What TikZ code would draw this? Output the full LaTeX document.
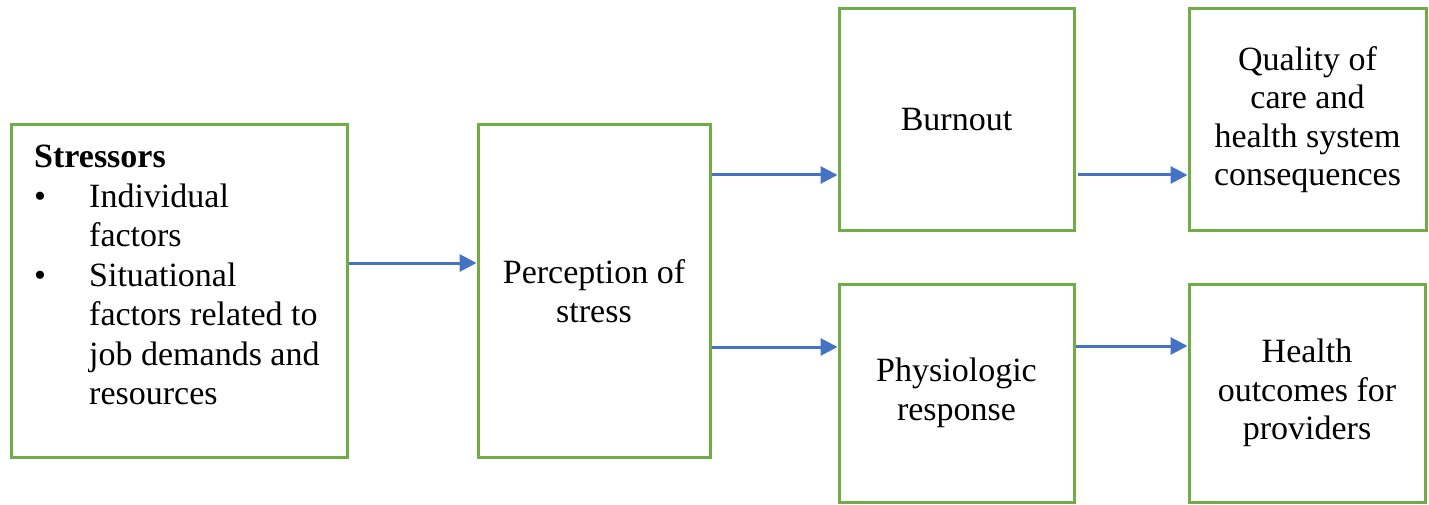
\documentclass[tikz,border=0pt]{standalone}
\usepackage{fontspec}
\setmainfont{Liberation Serif}
\usetikzlibrary{arrows.meta}
\definecolor{boxgreen}{HTML}{70AD47}
\definecolor{arrblue}{HTML}{4472C4}
\begin{document}
\begin{tikzpicture}[x=1pt,y=-1pt,
  box/.style={draw=boxgreen,line width=3pt,fill=white,inner sep=0pt,align=center,
    font=\fontsize{34}{38.5}\selectfont},
  arr/.style={draw=arrblue,line width=3pt,-{Triangle[length=17pt,width=17pt]}},
  txt/.style={inner sep=0pt,font=\fontsize{34}{39.5}\selectfont}]
\useasboundingbox[fill=white] (0,0) rectangle (1429,505);
\node[box,minimum width=336pt,minimum height=332pt] (str) at (179,291) {};
\node[box,minimum width=232pt,minimum height=332pt] (perc) at (594,291) {Perception of\\stress};
\node[box,minimum width=235pt,minimum height=221pt] (burn) at (956.5,119.5) {Burnout};
\node[box,minimum width=237pt,minimum height=221pt] (qual) at (1307.5,119.5) {Quality of\\care and\\health system\\consequences};
\node[box,minimum width=235pt,minimum height=218pt] (phys) at (956.5,393) {Physiologic\\response};
\node[box,minimum width=236pt,minimum height=218pt] (heal) at (1307,393) {Health\\outcomes for\\providers};
\node[txt,anchor=north west] (strtxt) at (34,140) {\begin{tabular}{@{}p{55pt}@{}l@{}}
\multicolumn{2}{@{}l}{\textbf{Stressors}}\\
\textbullet & Individual\\
 & factors\\
\textbullet & Situational\\
 & factors related to\\
 & job demands and\\
 & resources
\end{tabular}};
\draw[arr] (str.east |- 0,263) -- (perc.west |- 0,263);
\draw[arr] (perc.east |- 0,175) -- (burn.west |- 0,175);
\draw[arr] (perc.east |- 0,347) -- (phys.west |- 0,347);
\draw[arr] ([xshift=2pt]burn.east |- 0,175) -- (qual.west |- 0,175);
\draw[arr] (phys.east |- 0,346) -- (heal.west |- 0,346);
\end{tikzpicture}
\end{document}
